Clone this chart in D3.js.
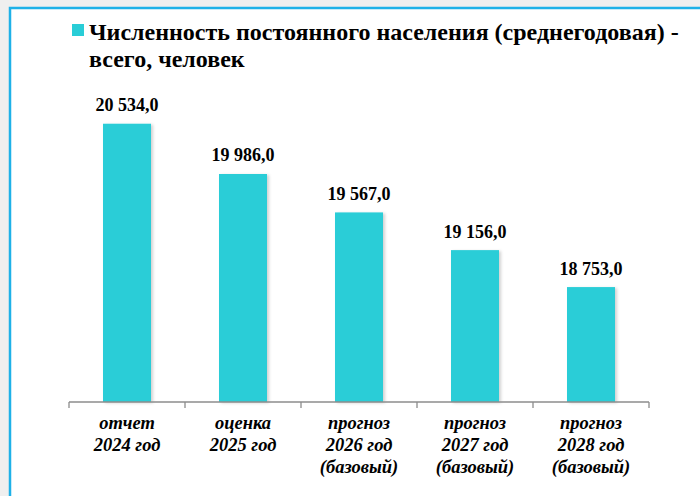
<!DOCTYPE html>
<html><head><meta charset="utf-8">
<script src="https://cdn.jsdelivr.net/npm/d3@7"></script>
<style>
html,body{margin:0;padding:0;background:#efefef;}
svg{display:block;}
svg text{font-family:"Liberation Serif","Times New Roman",serif;}
</style></head>
<body>
<svg id="c" width="700" height="496"></svg>
<script>
const categories = [
  ["отчет","2024 год"],
  ["оценка","2025 год"],
  ["прогноз","2026 год","(базовый)"],
  ["прогноз","2027 год","(базовый)"],
  ["прогноз","2028 год","(базовый)"]
];
const values = [20534.0, 19986.0, 19567.0, 19156.0, 18753.0];
const seriesName = ["Численность постоянного населения (среднегодовая) -", "всего, человек"];
const yDomain = [17500, 21000];

const svg = d3.select("#c");
const color = "#29CDD7";

// frame
svg.append("rect").attr("x",0).attr("y",0).attr("width",700).attr("height",496).attr("fill","#efefef");
svg.append("rect").attr("x",10).attr("y",8).attr("width",700).attr("height",500).attr("fill","#fff")
  .attr("stroke","#1EB1E8").attr("stroke-width",2.5);

const defs = svg.append("defs");
const f = defs.append("filter").attr("id","sh").attr("x","-20%").attr("y","-10%").attr("width","150%").attr("height","130%");
f.append("feDropShadow").attr("dx",2).attr("dy",1).attr("stdDeviation",1.5).attr("flood-color","#000").attr("flood-opacity",0.18);

const x = d3.scaleBand().domain(d3.range(values.length)).range([69,649]).paddingInner(0).paddingOuter(0);
const y = d3.scaleLinear().domain(yDomain).range([402,81]);
const bw = 48;

svg.append("g").selectAll("rect").data(values).join("rect")
  .attr("x",(d,i)=>x(i)+x.bandwidth()/2-bw/2)
  .attr("y",d=>y(d))
  .attr("width",bw)
  .attr("height",d=>y(yDomain[0])-y(d))
  .attr("fill",color)
  .attr("filter","url(#sh)");

const fmt = d => d3.format(",.1f")(d).replace(/,/g," ").replace(".",",");
svg.append("g").selectAll("text").data(values).join("text")
  .attr("x",(d,i)=>x(i)+x.bandwidth()/2)
  .attr("y",d=>y(d)-12.5)
  .attr("text-anchor","middle")
  .style("font-weight","bold").style("font-size","18px")
  .attr("fill","#000")
  .text(fmt);

// axis
const ax = svg.append("g").attr("transform","translate(0,402)")
  .call(d3.axisBottom(x).tickSize(0).tickFormat(""));
ax.select(".domain").attr("stroke","#8c8c8c").attr("stroke-width",1.3).attr("d","M69,0H649");
ax.selectAll(".tick").remove();
const tickPos = d3.range(values.length+1).map(i=> i<values.length ? x(i) : x(values.length-1)+x.bandwidth());
ax.selectAll("line.t").data(tickPos).join("line").attr("class","t")
  .attr("x1",d=>d).attr("x2",d=>d).attr("y1",0).attr("y2",6)
  .attr("stroke","#8c8c8c").attr("stroke-width",1.3);

// category labels
const lg = svg.append("g");
categories.forEach((lines,i)=>{
  const t = lg.append("text").attr("x",x(i)+x.bandwidth()/2).attr("y",429)
    .attr("text-anchor","middle")
    .style("font-weight","bold").style("font-style","italic").style("font-size","18.5px").attr("fill","#000");
  lines.forEach((l,j)=>t.append("tspan").attr("x",x(i)+x.bandwidth()/2).attr("dy",j?22:0).text(l));
});

// legend
svg.append("rect").attr("x",72).attr("y",24).attr("width",12).attr("height",12).attr("fill",color);
const leg = svg.append("text").style("font-weight","bold").style("font-size","24px").attr("fill","#000");
seriesName.forEach((l,j)=>leg.append("tspan").attr("x",89).attr("y",40+j*27).text(l));
</script>
</body></html>
